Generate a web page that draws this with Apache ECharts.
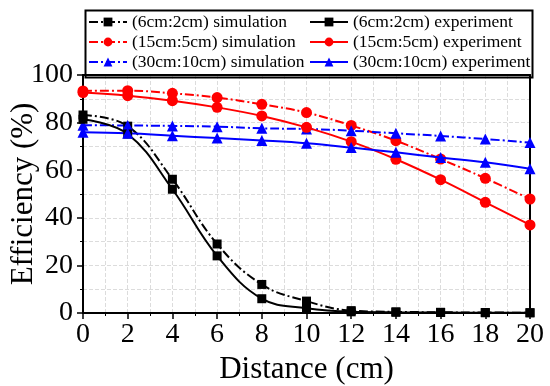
<!DOCTYPE html>
<html><head><meta charset="utf-8">
<script src="https://cdn.jsdelivr.net/npm/echarts@6/dist/echarts.min.js"></script>
<style>html,body{margin:0;padding:0;background:#fff}#c{width:550px;height:386px}</style>
</head><body><div id="c"></div>
<script>
const distance = [0, 2, 4, 6, 8, 10, 12, 14, 16, 18, 20];
const sim6 = [83.2, 78.5, 56.2, 29, 12, 5, 1, 0.5, 0.3, 0.2, 0.1];
const exp6 = [81.4, 75.2, 52, 24, 6, 2, 0.5, 0.3, 0.2, 0.1, 0.1];
const sim15 = [93.3, 93.4, 92.3, 90.5, 87.7, 84.2, 78.8, 72.4, 64.7, 56.6, 47.9];
const exp15 = [92.6, 91.3, 89.2, 86.4, 82.8, 78, 72, 64.6, 56, 46.5, 37];
const sim30 = [78.9, 78.8, 78.6, 78.3, 77.6, 77.3, 76.6, 75.5, 74.4, 73.1, 71.6];
const exp30 = [75.9, 75.5, 74.5, 73.5, 72.5, 71.3, 69.5, 67.5, 65.3, 63.3, 60.6];
const xTicks = { min: 0, max: 20, interval: 2 };
const yTicks = { min: 0, max: 100, interval: 20 };

const FONT = 'Liberation Serif';
const dashDot = [9, 3, 2, 3];
function pair(arr) { return distance.map((d, i) => [d, arr[i]]); }
function mk(name, data, color, symbol, size, dashed) {
  return {
    name, type: 'line', data: pair(data), smooth: 0.4,
    symbol, symbolSize: size,
    itemStyle: { color },
    lineStyle: { color, width: 2, type: dashed ? dashDot : 'solid' },
    z: dashed ? 2 : 3
  };
}
const series = [
  mk('(6cm:2cm) simulation', sim6, '#000', 'rect', 9, true),
  mk('(6cm:2cm) experiment', exp6, '#000', 'rect', 9, false),
  mk('(15cm:5cm) simulation', sim15, '#ff0000', 'circle', 11, true),
  mk('(15cm:5cm) experiment', exp15, '#ff0000', 'circle', 11, false),
  mk('(30cm:10cm) simulation', sim30, '#0000ff', 'triangle', 11, true),
  mk('(30cm:10cm) experiment', exp30, '#0000ff', 'triangle', 11, false)
];
const legendCommon = {
  orient: 'vertical', top: 13, itemGap: 2, itemWidth: 38, itemHeight: 11,
  textStyle: { fontFamily: FONT, fontSize: 17.5, color: '#000', lineHeight: 15 },
  padding: 0
};
const axisLineStyle = { color: '#000', width: 2 };
const grid = { color: '#dcdcdc', type: 'dashed', width: 1 };
const chart = echarts.init(document.getElementById('c'));
chart.setOption({
  animation: false,
  grid: { left: 83, right: 20, top: 75, bottom: 73, outerBoundsMode: 'none', containLabel: false },
  legend: [
    Object.assign({}, legendCommon, { left: 88, data: [series[0].name, series[2].name, series[4].name] }),
    Object.assign({}, legendCommon, { left: 309, data: [series[1].name, series[3].name, series[5].name] })
  ],
  graphic: [{
    type: 'rect', left: 83, top: 8, z: 100, silent: true,
    shape: { width: 447, height: 67 },
    style: { fill: 'none', stroke: '#000', lineWidth: 2 }
  }],
  xAxis: [{
    type: 'value', min: xTicks.min, max: xTicks.max, interval: xTicks.interval,
    name: 'Distance (cm)', nameLocation: 'middle', nameGap: 36,
    nameTextStyle: { fontFamily: FONT, fontSize: 31, color: '#000' },
    axisLine: { lineStyle: axisLineStyle },
    axisTick: { length: 6, lineStyle: { color: '#000', width: 1.5 } },
    minorTick: { show: true, splitNumber: 2, length: 3, lineStyle: { color: '#000', width: 1 } },
    axisLabel: { fontFamily: FONT, fontSize: 28, color: '#000', margin: 8 },
    splitLine: { show: true, lineStyle: grid },
    minorSplitLine: { show: true, lineStyle: grid }
  }, {
    type: 'value', position: 'top', min: xTicks.min, max: xTicks.max, interval: xTicks.interval,
    axisLine: { show: true, onZero: false, lineStyle: axisLineStyle },
    axisTick: { show: false }, axisLabel: { show: false }, splitLine: { show: false }
  }],
  yAxis: [{
    type: 'value', min: yTicks.min, max: yTicks.max, interval: yTicks.interval,
    name: 'Efficiency (%)', nameLocation: 'middle', nameGap: 44, nameMoveOverlap: false,
    nameTextStyle: { fontFamily: FONT, fontSize: 31, color: '#000' },
    axisLine: { show: true, lineStyle: axisLineStyle },
    axisTick: { show: true, length: 6, lineStyle: { color: '#000', width: 1.5 } },
    minorTick: { show: true, splitNumber: 2, length: 3, lineStyle: { color: '#000', width: 1 } },
    axisLabel: { fontFamily: FONT, fontSize: 28, color: '#000', margin: 10 },
    splitLine: { show: true, lineStyle: grid },
    minorSplitLine: { show: true, lineStyle: grid }
  }, {
    type: 'value', position: 'right', min: yTicks.min, max: yTicks.max, interval: yTicks.interval,
    axisLine: { show: true, onZero: false, lineStyle: axisLineStyle },
    axisTick: { show: false }, axisLabel: { show: false }, splitLine: { show: false }
  }],
  series
});
</script></body></html>
